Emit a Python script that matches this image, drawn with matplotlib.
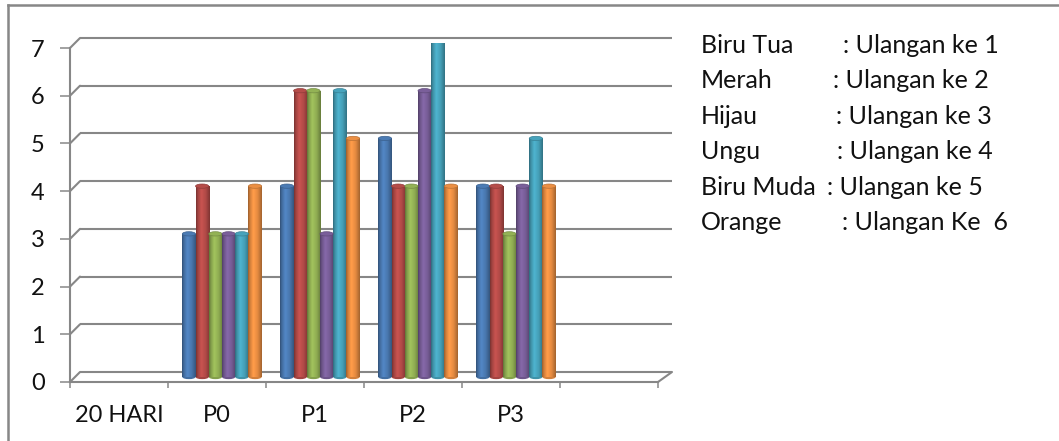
import numpy as np
import matplotlib
matplotlib.use("Agg")
import matplotlib.pyplot as plt
from matplotlib import transforms
from matplotlib.patches import Ellipse
from matplotlib.lines import Line2D
from matplotlib.colors import to_rgb

# ---- data -------------------------------------------------------------
categories = ["20 HARI", "P0", "P1", "P2", "P3", ""]
ulangan_1 = [np.nan, 3, 4, 5, 4, np.nan]
ulangan_2 = [np.nan, 4, 6, 4, 4, np.nan]
ulangan_3 = [np.nan, 3, 6, 4, 3, np.nan]
ulangan_4 = [np.nan, 3, 3, 6, 4, np.nan]
ulangan_5 = [np.nan, 3, 6, 7, 5, np.nan]
ulangan_6 = [np.nan, 4, 5, 4, 4, np.nan]
series = [ulangan_1, ulangan_2, ulangan_3, ulangan_4, ulangan_5, ulangan_6]
colors = ["#4F81BD", "#C0504D", "#9BBB59", "#8064A2", "#4BACC6", "#F79646"]
y_ticks = list(range(0, 8))

legend_names = ["Biru Tua", "Merah", "Hijau", "Ungu", "Biru Muda", "Orange"]
legend_desc = [": Ulangan ke 1", ": Ulangan ke 2", ": Ulangan ke 3",
               ": Ulangan ke 4", ": Ulangan ke 5", ": Ulangan Ke  6"]

# ---- figure -----------------------------------------------------------
plt.rcParams['font.family'] = ['Lato', 'DejaVu Sans']
W, H = 1059, 441
fig = plt.figure(figsize=(W / 100, H / 100), dpi=100, facecolor="white")

grid_c = "#878787"
text_c = "#111111"

# front face of the plot box (pixels from top-left)
left_px, right_px, base_px, top_px = 70, 658, 382, 48
ax = fig.add_axes([left_px / W, 1 - base_px / H,
                   (right_px - left_px) / W, (base_px - top_px) / H])
ax.set_facecolor("none")
for s in ax.spines.values():
    s.set_visible(False)

n_cat = len(categories)
x_lo, x_hi = -0.5, n_cat - 0.5

# depth offsets (pixels) for the back wall and the bar plane
back = ax.transData + transforms.Affine2D().translate(10, 10)
mid = ax.transData + transforms.Affine2D().translate(5, 5)

# back wall gridlines
for v in y_ticks:
    ax.plot([x_lo, x_hi + 0.04], [v, v], transform=back, color=grid_c,
            lw=1.5, zorder=1, clip_on=False, solid_capstyle="butt")
    ax.annotate("", xy=(x_lo, v), xytext=(10, 10), textcoords="offset pixels",
                arrowprops=dict(arrowstyle="-", color=grid_c, lw=1.5,
                                shrinkA=0, shrinkB=0),
                annotation_clip=False, zorder=1)

# floor: front edge and right-hand depth edge
ax.plot([x_lo, x_hi], [0, 0], color=grid_c, lw=1.5, zorder=1, clip_on=False)
ax.annotate("", xy=(x_hi, 0), xytext=(14, 10), textcoords="offset pixels",
            arrowprops=dict(arrowstyle="-", color=grid_c, lw=1.5,
                            shrinkA=0, shrinkB=0),
            annotation_clip=False, zorder=1)
# front value axis
ax.plot([x_lo, x_lo], [0, 7], color=grid_c, lw=1.5, zorder=1, clip_on=False)

# ---- cylinders ----------------------------------------------------------
n_ser = len(series)
bw = 0.135
t = np.linspace(0, 1, 64)
shade = np.interp(t, [0, 0.12, 0.38, 0.7, 1.0], [0.62, 0.82, 1.05, 0.92, 0.66])
cap_h = 0.09

for i, (vals, col) in enumerate(zip(series, colors)):
    base = np.array(to_rgb(col))
    grad = np.clip(base[None, None, :] * shade[None, :, None], 0, 1)
    xs = np.arange(n_cat) + (i - (n_ser - 1) / 2) * bw
    bars = ax.bar(xs, vals, width=bw, transform=mid, color=col,
                  linewidth=0, zorder=3)
    for xc, v, rect in zip(xs, vals, bars):
        if not np.isfinite(v):
            continue
        im = ax.imshow(grad, extent=(xc - bw / 2, xc + bw / 2, 0, v),
                       transform=mid, aspect="auto", zorder=3.1,
                       interpolation="bilinear")
        im.set_clip_path(rect)
        # rounded bottom and top of the cylinder
        ax.add_patch(Ellipse((xc, 0), bw, cap_h, transform=mid,
                             facecolor=np.clip(base * 0.85, 0, 1),
                             edgecolor="none", zorder=3.05))
        ax.add_patch(Ellipse((xc, v), bw, cap_h, transform=mid,
                             facecolor=np.clip(base * 0.95, 0, 1),
                             edgecolor=np.clip(base * 0.75, 0, 1),
                             lw=0.5, zorder=3.2))

ax.set_xlim(x_lo, x_hi)
ax.set_ylim(0, 7)

# ---- ticks --------------------------------------------------------------
ax.set_yticks(y_ticks)
ax.set_yticklabels([str(v) for v in y_ticks])
ax.tick_params(axis="y", length=7.2, width=1.1, color=grid_c, pad=11,
               labelsize=17, labelcolor=text_c)

ax.set_xticks(np.arange(x_lo, x_hi + 0.01, 1.0))
ax.set_xticklabels([])
ax.set_xticks(np.arange(n_cat), minor=True)
ax.set_xticklabels(categories, minor=True)
ax.tick_params(axis="x", which="major", length=4.5, width=1.1, color=grid_c)
ax.tick_params(axis="x", which="minor", length=0, pad=16.5, labelsize=17,
               labelcolor=text_c)

# ---- explanatory text -------------------------------------------------
name_x = 701
desc_x = [843, 833, 836, 837, 827, 842]
baselines = [53, 88, 124, 159, 195, 230]
for name, desc, dx, yb in zip(legend_names, legend_desc, desc_x, baselines):
    fig.text(name_x / W, 1 - yb / H, name, fontsize=18, color=text_c,
             va="baseline", ha="left")
    fig.text(dx / W, 1 - yb / H, desc, fontsize=18, color=text_c,
             va="baseline", ha="left")

# ---- chart frame (top and left edges) -------------------------------
fig.add_artist(Line2D([8 / W, 1], [1 - 5 / H, 1 - 5 / H],
                      transform=fig.transFigure, color=grid_c, lw=1.8))
fig.add_artist(Line2D([8 / W, 8 / W], [0, 1 - 5 / H],
                      transform=fig.transFigure, color=grid_c, lw=1.8))

fig.savefig("out.png", dpi=100, facecolor="white")
